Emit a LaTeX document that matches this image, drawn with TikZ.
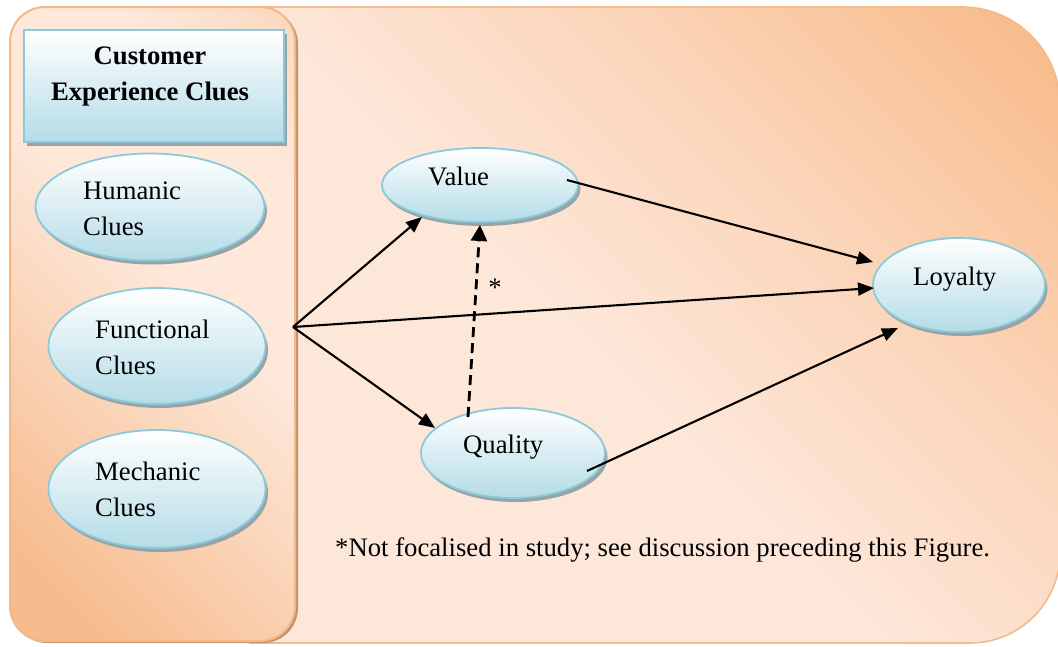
\documentclass[tikz,border=0pt]{standalone}
\usepackage{fontspec}
\setmainfont{Liberation Serif}
\usetikzlibrary{shapes.geometric,arrows.meta,calc}

\definecolor{outerlight}{HTML}{FDE7D9}
\definecolor{outermid}{HTML}{FBD4B8}
\definecolor{outerdark}{HTML}{F8BB89}
\definecolor{outerline}{HTML}{F5BA8C}
\definecolor{paneldark}{HTML}{F7BC8E}
\definecolor{panellight}{HTML}{FDE8DA}
\definecolor{panelline}{HTML}{F5B784}
\definecolor{panelshadow}{HTML}{B99678}
\definecolor{cluefill}{HTML}{B4DCE7}
\definecolor{clueline}{HTML}{8CC9D9}
\definecolor{clueshadow}{HTML}{96A4A8}

% backdrop gradients: light lower left, deeper orange towards the corner
\pgfdeclarehorizontalshading{outershade}{100bp}{color(0bp)=(outerlight); color(46bp)=(outerlight); color(64bp)=(outermid); color(84bp)=(outerdark); color(100bp)=(outerdark)}
\pgfdeclarehorizontalshading{panelshade}{100bp}{color(0bp)=(paneldark); color(22bp)=(paneldark); color(55bp)=(panellight); color(72bp)=(panellight); color(88bp)=(outermid); color(100bp)=(outermid)}

\tikzset{
  clue/.style={ellipse, draw=clueline, line width=1.8pt, top color=white,
    bottom color=cluefill, inner sep=0pt,
    preaction={fill=clueshadow, transform canvas={shift={(2.5pt,-4pt)}}}},
  headbox/.style={rectangle, draw=clueline, line width=1.8pt, top color=white,
    bottom color=cluefill, inner sep=0pt,
    preaction={fill=clueshadow, transform canvas={shift={(3pt,-4pt)}}}},
  txt/.style={inner sep=0pt, align=left},
  link/.style={line width=2.1pt, -{Triangle[length=16pt,width=13pt]}},
  dlink/.style={line width=2.8pt, dash pattern=on 10pt off 6pt,
    -{Triangle[length=16pt,width=16pt]}},
}

\begin{document}
\begin{tikzpicture}[x=1pt, y=-1pt, font=\fontsize{26.7}{36}\selectfont]
\useasboundingbox (0,0) rectangle (1058,646);

% main backdrop with two rounded corners on the right
\path[draw=outerline, line width=1.6pt, shading=outershade, shading angle=45]
  (250,7) -- (962,7) arc[start angle=90, end angle=0, radius=98pt]
  -- (1060,553) arc[start angle=0, end angle=-90, radius=90pt]
  -- (250,643) -- cycle;

% left panel holding the clue types
\fill[panelshadow, rounded corners=35pt] (12,9) rectangle (298,643);
\path[draw=panelline, line width=2pt, shading=panelshade, shading angle=45,
  rounded corners=35pt] (10,7) rectangle (295,641);

% heading box
\node[headbox, minimum width=260pt, minimum height=112pt] (head) at (154,86) {};
\node[txt, align=center, font=\fontsize{26.7}{36}\selectfont\bfseries] (headtxt) at (150,76)
  {Customer\\Experience Clues};

% clue ellipses
\node[clue, minimum width=229pt, minimum height=107pt] (humanic) at (150,207) {};
\node[txt, anchor=west] (humanictxt) at (83,209) {Humanic\\Clues};
\node[clue, minimum width=217pt, minimum height=116pt] (functional) at (157,346) {};
\node[txt, anchor=west] (functionaltxt) at (95,347) {Functional\\Clues};
\node[clue, minimum width=217pt, minimum height=118pt] (mechanic) at (157,489) {};
\node[txt, anchor=west] (mechanictxt) at (95,489) {Mechanic\\Clues};

% outcome ellipses
\node[clue, minimum width=196pt, minimum height=74pt] (value) at (480,185) {};
\node[txt, anchor=base west] (valuetxt) at (428,185) {Value};
\node[clue, minimum width=184pt, minimum height=90pt] (quality) at (513,453) {};
\node[txt, anchor=base west] (qualitytxt) at (463,453) {Quality};
\node[clue, minimum width=172pt, minimum height=94pt] (loyalty) at (959,285) {};
\node[txt, anchor=base west] (loyaltytxt) at (913,285) {Loyalty};

% common origin of the clue arrows on the panel edge
\coordinate (src) at (293,327);

\draw[link] (src) -- ($(value.center)+(-58,32)$);
\draw[link] (src) -- ($(quality.center)+(-78,-25)$);
\draw[link] (src) -- ($(loyalty.center)+(-85,3)$);
\draw[link] ($(value.center)+(87,-5)$) -- ($(loyalty.center)+(-86,-23)$);
\draw[link] ($(quality.center)+(74,18)$) -- ($(loyalty.center)+(-61,43)$);
\draw[dlink] ($(quality.center)+(-45,-36)$) -- ($(value.center)+(0,40)$);

\node[txt] (star) at (495,288) {*};

\node[txt, anchor=base west] (note) at (335,556)
  {*Not focalised in study; see discussion preceding this Figure.};
\end{tikzpicture}
\end{document}
